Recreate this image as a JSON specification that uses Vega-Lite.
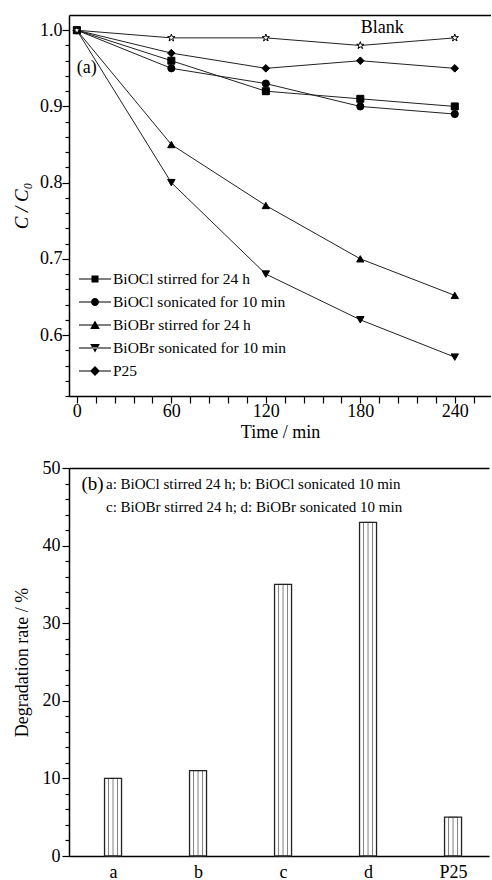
{
  "$schema": "https://vega.github.io/schema/vega-lite/v6.json",
  "padding": {"left": 12, "top": 15, "right": 0, "bottom": 0},
  "spacing": 18,
  "config": {
    "font": "Liberation Serif",
    "view": {"stroke": null},
    "axis": {"labelFont": "Liberation Serif", "titleFont": "Liberation Serif", "labelColor": "black", "titleColor": "black", "domainColor": "black", "tickColor": "black", "labelFontSize": 18, "titleFontSize": 18, "titleFontWeight": "normal", "domainWidth": 1.5, "tickWidth": 1.2, "grid": false}
  },
  "datasets": {
    "kin": [
      {"series": "BiOCl stirred for 24 h", "time": 0, "value": 1.0},
      {"series": "BiOCl stirred for 24 h", "time": 60, "value": 0.96},
      {"series": "BiOCl stirred for 24 h", "time": 120, "value": 0.92},
      {"series": "BiOCl stirred for 24 h", "time": 180, "value": 0.91},
      {"series": "BiOCl stirred for 24 h", "time": 240, "value": 0.90},
      {"series": "BiOCl sonicated for 10 min", "time": 0, "value": 1.0},
      {"series": "BiOCl sonicated for 10 min", "time": 60, "value": 0.95},
      {"series": "BiOCl sonicated for 10 min", "time": 120, "value": 0.93},
      {"series": "BiOCl sonicated for 10 min", "time": 180, "value": 0.90},
      {"series": "BiOCl sonicated for 10 min", "time": 240, "value": 0.89},
      {"series": "BiOBr stirred for 24 h", "time": 0, "value": 1.0},
      {"series": "BiOBr stirred for 24 h", "time": 60, "value": 0.85},
      {"series": "BiOBr stirred for 24 h", "time": 120, "value": 0.77},
      {"series": "BiOBr stirred for 24 h", "time": 180, "value": 0.70},
      {"series": "BiOBr stirred for 24 h", "time": 240, "value": 0.652},
      {"series": "BiOBr sonicated for 10 min", "time": 0, "value": 1.0},
      {"series": "BiOBr sonicated for 10 min", "time": 60, "value": 0.80},
      {"series": "BiOBr sonicated for 10 min", "time": 120, "value": 0.68},
      {"series": "BiOBr sonicated for 10 min", "time": 180, "value": 0.62},
      {"series": "BiOBr sonicated for 10 min", "time": 240, "value": 0.571},
      {"series": "P25", "time": 0, "value": 1.0},
      {"series": "P25", "time": 60, "value": 0.97},
      {"series": "P25", "time": 120, "value": 0.95},
      {"series": "P25", "time": 180, "value": 0.96},
      {"series": "P25", "time": 240, "value": 0.95},
      {"series": "Blank", "time": 0, "value": 1.0},
      {"series": "Blank", "time": 60, "value": 0.99},
      {"series": "Blank", "time": 120, "value": 0.99},
      {"series": "Blank", "time": 180, "value": 0.98},
      {"series": "Blank", "time": 240, "value": 0.99}
    ],
    "deg": [
      {"pos": 1, "rate": 10},
      {"pos": 2, "rate": 11},
      {"pos": 3, "rate": 35},
      {"pos": 4, "rate": 43},
      {"pos": 5, "rate": 5}
    ]
  },
  "vconcat": [
    {
      "width": 422,
      "height": 381,
      "resolve": {"scale": {"shape": "independent"}, "axis": {"x": "independent", "y": "independent"}},
      "layer": [
        {
          "data": {"name": "kin"},
          "mark": {"type": "line", "color": "#222", "strokeWidth": 1},
          "encoding": {
            "x": {"field": "time", "type": "quantitative", "scale": {"domain": [-5, 263], "nice": false, "zero": false},
              "axis": {"orient": "bottom", "title": "Time / min", "values": [0,12,24,36,48,60,72,84,96,108,120,132,144,156,168,180,192,204,216,228,240,252],
                "labelExpr": "datum.value % 60 === 0 ? datum.label : ''",
                "ticks": true, "tickSize": 7,
                "encode": {"ticks": {"update": {"y2": {"signal": "datum.value % 60 === 0 ? -7 : -4"}}}},
                "labelPadding": -1, "titlePadding": 3}},
            "y": {"field": "value", "type": "quantitative", "scale": {"domain": [0.52, 1.02], "nice": false, "zero": false},
              "axis": {"orient": "left", "title": "C / C₀", "titleFontStyle": "italic", "titleFontSize": 19, "values": [0.6, 0.7, 0.8, 0.9, 1.0], "format": ".1f",
                "ticks": true, "tickSize": 7,
                "encode": {"ticks": {"update": {"x2": {"value": 7}}}},
                "labelPadding": 0, "titlePadding": 8}},
            "detail": {"field": "series"}
          }
        },
        {
          "data": {"name": "kin"},
          "mark": {"type": "point", "filled": false, "stroke": "black", "strokeWidth": 1, "opacity": 1},
          "encoding": {
            "x": {"field": "time", "type": "quantitative", "axis": null},
            "y": {"field": "value", "type": "quantitative",
              "axis": {"orient": "left", "title": null, "labels": false, "domain": false, "ticks": true, "tickSize": 4,
                "values": [0.52,0.54,0.56,0.58,0.62,0.64,0.66,0.68,0.72,0.74,0.76,0.78,0.82,0.84,0.86,0.88,0.92,0.94,0.96,0.98],
                "encode": {"ticks": {"update": {"x2": {"value": 4}}}}}},
            "shape": {"field": "series", "type": "nominal", "legend": null,
              "scale": {"domain": ["BiOCl stirred for 24 h", "BiOCl sonicated for 10 min", "BiOBr stirred for 24 h", "BiOBr sonicated for 10 min", "P25", "Blank"],
                "range": ["square", "circle", "triangle-up", "triangle-down", "diamond", "M0,-1L0.223,-0.307L0.951,-0.309L0.361,0.117L0.588,0.809L0,0.38L-0.588,0.809L-0.361,0.117L-0.951,-0.309L-0.223,-0.307Z"]}},
            "fill": {"field": "series", "type": "nominal", "legend": null,
              "scale": {"domain": ["BiOCl stirred for 24 h", "BiOCl sonicated for 10 min", "BiOBr stirred for 24 h", "BiOBr sonicated for 10 min", "P25", "Blank"],
                "range": ["black", "black", "black", "black", "black", "white"]}},
            "size": {"field": "series", "type": "nominal", "legend": null,
              "scale": {"domain": ["BiOCl stirred for 24 h", "BiOCl sonicated for 10 min", "BiOBr stirred for 24 h", "BiOBr sonicated for 10 min", "P25", "Blank"],
                "range": [49, 60, 75, 75, 85, 95]}}
          }
        },
        {
          "data": {"name": "kin"},
          "transform": [{"filter": "datum.series !== 'Blank'"}],
          "mark": {"type": "point", "filled": true, "color": "black", "opacity": 0},
          "encoding": {
            "x": {"field": "time", "type": "quantitative", "axis": null},
            "y": {"field": "value", "type": "quantitative", "axis": null},
            "shape": {"field": "series", "type": "nominal",
              "scale": {"domain": ["BiOCl stirred for 24 h", "BiOCl sonicated for 10 min", "BiOBr stirred for 24 h", "BiOBr sonicated for 10 min", "P25"],
                "range": [
                  "M-1,-0.065H3V0.065H-1ZM0.56,-0.44H1.44V0.44H0.56Z",
                  "M-1,-0.065H3V0.065H-1ZM1.5,0A0.5,0.5,0,1,1,0.5,0A0.5,0.5,0,1,1,1.5,0Z",
                  "M-1,-0.065H3V0.065H-1ZM1,-0.55L1.6,0.5H0.4Z",
                  "M-1,-0.065H3V0.065H-1ZM1,0.55L1.6,-0.5H0.4Z",
                  "M-1,-0.065H3V0.065H-1ZM1,-0.62L1.62,0L1,0.62L0.38,0Z"
                ]},
              "legend": {"orient": "none", "legendX": 10, "legendY": 256, "title": null, "labelFont": "Liberation Serif", "labelFontSize": 15.5, "labelColor": "black", "labelLimit": 400, "symbolSize": 256, "labelOffset": 18, "rowPadding": 6, "symbolOpacity": 1, "symbolFillColor": "black", "symbolStrokeWidth": 0}}
          }
        },
        {
          "data": {"values": [{"time": 0, "value": 0.951, "label": "(a)"}]},
          "mark": {"type": "text", "align": "left", "baseline": "middle", "fontSize": 18, "font": "Liberation Serif", "color": "black"},
          "encoding": {
            "x": {"field": "time", "type": "quantitative", "axis": {"orient": "top", "title": null, "labels": false, "ticks": false, "domain": true}},
            "y": {"field": "value", "type": "quantitative", "axis": null},
            "text": {"field": "label"}
          }
        },
        {
          "data": {"values": [{"time": 194, "value": 1.003, "label": "Blank"}]},
          "mark": {"type": "text", "align": "center", "baseline": "middle", "fontSize": 18, "font": "Liberation Serif", "color": "black"},
          "encoding": {
            "x": {"field": "time", "type": "quantitative", "axis": null},
            "y": {"field": "value", "type": "quantitative", "axis": null},
            "text": {"field": "label"}
          }
        }
      ]
    },
    {
      "width": 420,
      "height": 388,
      "resolve": {"axis": {"x": "independent", "y": "independent"}},
      "layer": [
        {
          "data": {"name": "deg"},
          "mark": {"type": "bar", "width": 17, "fill": "white", "strokeWidth": 0},
          "encoding": {
            "x": {"field": "pos", "type": "quantitative", "scale": {"domain": [0.482, 5.423], "nice": false, "zero": false, "padding": 0},
              "axis": {"orient": "bottom", "title": null, "values": [1,2,3,4,5], "labelExpr": "['','a','b','c','d','P25'][datum.value]", "ticks": false, "labelPadding": 7}},
            "y": {"field": "rate", "type": "quantitative", "scale": {"domain": [0, 50], "nice": false},
              "axis": {"orient": "left", "title": "Degradation rate / %", "values": [0, 10, 20, 30, 40, 50],
                "ticks": true, "tickSize": 7,
                "encode": {"ticks": {"update": {"x2": {"value": 7}}}},
                "labelPadding": 2, "titlePadding": 11}}
          }
        },
        {
          "data": {"name": "deg"},
          "mark": {"type": "bar", "width": 9, "fillOpacity": 0, "stroke": "#808080", "strokeWidth": 1},
          "encoding": {
            "x": {"field": "pos", "type": "quantitative", "axis": null},
            "y": {"field": "rate", "type": "quantitative",
              "axis": {"orient": "left", "title": null, "labels": false, "domain": false, "ticks": true, "tickSize": 4,
                "values": [2,4,6,8,12,14,16,18,22,24,26,28,32,34,36,38,42,44,46,48],
                "encode": {"ticks": {"update": {"x2": {"value": 4}}}}}}
          }
        },
        {
          "data": {"name": "deg"},
          "mark": {"type": "rule", "color": "#808080", "strokeWidth": 1},
          "encoding": {
            "x": {"field": "pos", "type": "quantitative", "axis": null},
            "y": {"field": "rate", "type": "quantitative", "axis": null},
            "y2": {"datum": 0}
          }
        },
        {
          "data": {"name": "deg"},
          "mark": {"type": "bar", "width": 17, "fillOpacity": 0, "stroke": "#222", "strokeWidth": 1.3},
          "encoding": {
            "x": {"field": "pos", "type": "quantitative", "axis": null},
            "y": {"field": "rate", "type": "quantitative", "axis": null}
          }
        },
        {
          "data": {"values": [{"pos": 0.758, "rate": 48.0, "label": "(b)"}]},
          "mark": {"type": "text", "align": "center", "baseline": "middle", "fontSize": 19, "font": "Liberation Serif", "color": "black"},
          "encoding": {
            "x": {"field": "pos", "type": "quantitative", "axis": {"orient": "top", "title": null, "labels": false, "ticks": false, "domain": true}},
            "y": {"field": "rate", "type": "quantitative", "axis": null},
            "text": {"field": "label"}
          }
        },
        {
          "data": {"values": [
            {"pos": 0.917, "rate": 48.0, "label": "a: BiOCl stirred 24 h; b: BiOCl sonicated 10 min"},
            {"pos": 0.917, "rate": 45.0, "label": "c: BiOBr stirred 24 h; d: BiOBr sonicated 10 min"}
          ]},
          "mark": {"type": "text", "align": "left", "baseline": "middle", "fontSize": 15, "font": "Liberation Serif", "color": "black"},
          "encoding": {
            "x": {"field": "pos", "type": "quantitative", "axis": null},
            "y": {"field": "rate", "type": "quantitative", "axis": null},
            "text": {"field": "label"}
          }
        }
      ]
    }
  ]
}
